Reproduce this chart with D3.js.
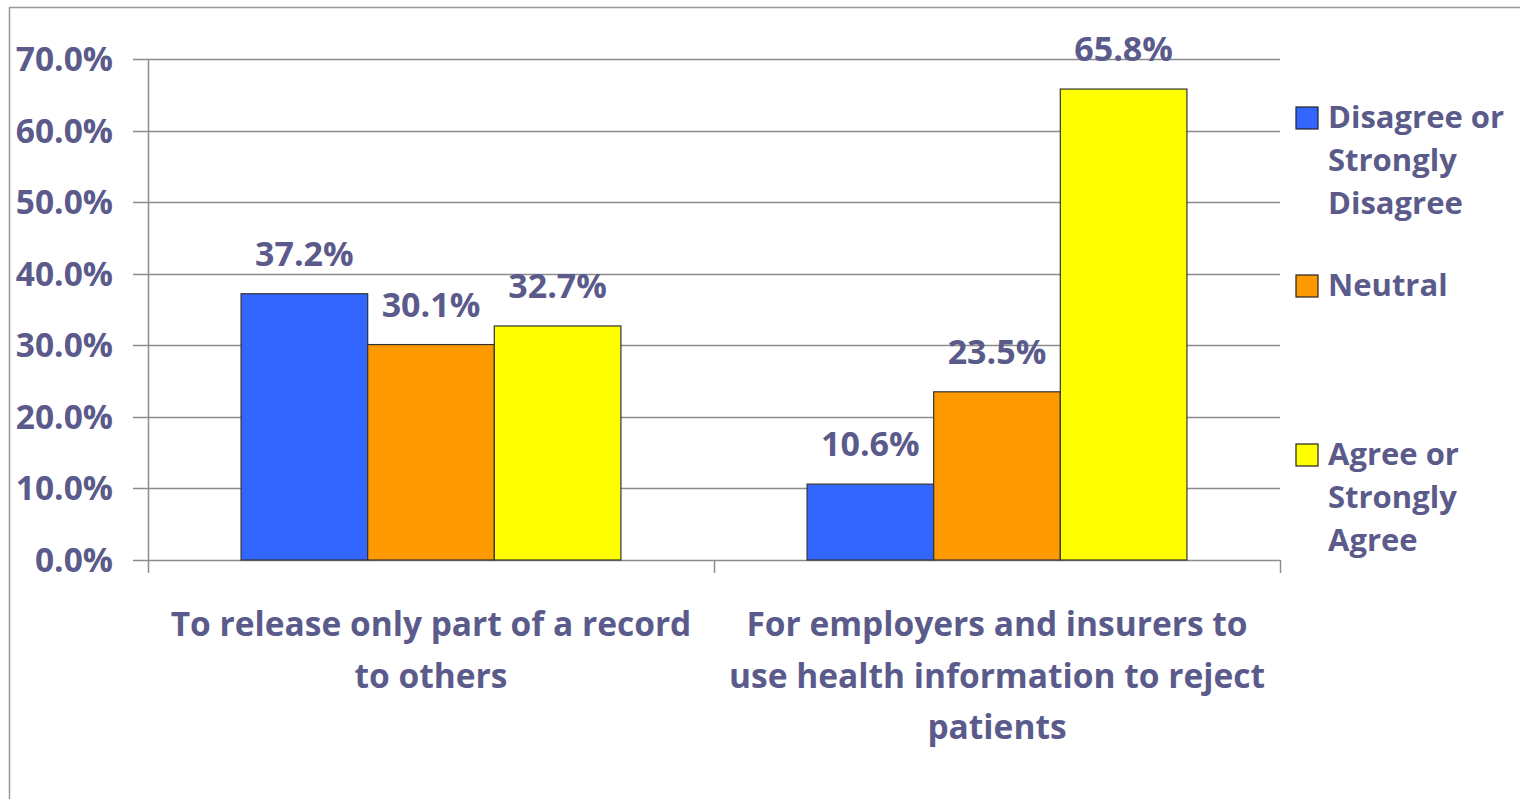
<!DOCTYPE html>
<html>
<head>
<meta charset="utf-8">
<script src="https://cdn.jsdelivr.net/npm/d3@7"></script>
<style>
  body { margin: 0; background: #fff; }
  text { font-family: "Open Sans", Lato, sans-serif; font-weight: bold; fill: #5b5b8b; }
</style>
</head>
<body>
<svg class="chart"></svg>
<script>
var categories = [
  ["To release only part of a record", "to others"],
  ["For employers and insurers to", "use health information to reject", "patients"]
];
var seriesNames = [
  ["Disagree or", "Strongly", "Disagree"],
  ["Neutral"],
  ["Agree or", "Strongly", "Agree"]
];
var colors = ["#3366ff", "#ff9900", "#ffff00"];
var values = [
  [37.2, 30.1, 32.7],
  [10.6, 23.5, 65.8]
];
var yTicks = [0, 10, 20, 30, 40, 50, 60, 70];

var width = 1520,
    height = 799;
var plotLeft = 148, plotRight = 1280, plotTop = 59, plotBottom = 560;

var chart = d3.select(".chart")
    .attr("width", width)
    .attr("height", height);

// outer frame (only top and left edges visible)
chart.append("line").attr("x1", 9).attr("x2", width).attr("y1", 7.5).attr("y2", 7.5)
    .attr("stroke", "#999").attr("stroke-width", 1.5);
chart.append("line").attr("x1", 9.5).attr("x2", 9.5).attr("y1", 7).attr("y2", height)
    .attr("stroke", "#999").attr("stroke-width", 1.5);

var x0 = d3.scaleBand()
    .domain(d3.range(categories.length))
    .range([plotLeft, plotRight]);
var x1 = d3.scaleBand()
    .domain(d3.range(colors.length))
    .range([0, x0.bandwidth()])
    .paddingOuter(0.735)
    .paddingInner(0);
var y = d3.scaleLinear()
    .domain([0, 70])
    .range([plotBottom, plotTop]);

// gridlines + y labels
chart.selectAll(".grid")
    .data(yTicks)
  .enter().append("line")
    .attr("x1", plotLeft - 15)
    .attr("x2", plotRight)
    .attr("y1", function(d) { return Math.round(y(d)) + 0.5; })
    .attr("y2", function(d) { return Math.round(y(d)) + 0.5; })
    .attr("stroke", "#8c8c8c")
    .attr("stroke-width", 1.5);

chart.selectAll(".ylab")
    .data(yTicks)
  .enter().append("text")
    .attr("x", 113)
    .attr("y", function(d) { return y(d); })
    .attr("dy", "0.36em")
    .attr("text-anchor", "end")
    .style("font-size", "33.5px")
    .text(function(d) { return d.toFixed(1) + "%"; });

// y axis line
chart.append("line")
    .attr("x1", plotLeft + 0.5).attr("x2", plotLeft + 0.5)
    .attr("y1", plotTop).attr("y2", plotBottom + 13)
    .attr("stroke", "#8c8c8c").attr("stroke-width", 1.5);

// category ticks
chart.selectAll(".ctick")
    .data(d3.range(1, categories.length + 1))
  .enter().append("line")
    .attr("x1", function(d) { return plotLeft + d * x0.bandwidth() + 0.5; })
    .attr("x2", function(d) { return plotLeft + d * x0.bandwidth() + 0.5; })
    .attr("y1", plotBottom).attr("y2", plotBottom + 13)
    .attr("stroke", "#8c8c8c").attr("stroke-width", 1.5);

var group = chart.selectAll(".grp")
    .data(values)
  .enter().append("g")
    .attr("transform", function(d, i) { return "translate(" + x0(i) + ",0)"; });

group.selectAll("rect")
    .data(function(d) { return d; })
  .enter().append("rect")
    .attr("x", function(d, i) { return x1(i); })
    .attr("y", function(d) { return y(d); })
    .attr("width", x1.bandwidth())
    .attr("height", function(d) { return y(0) - y(d); })
    .attr("fill", function(d, i) { return colors[i]; })
    .attr("stroke", "#333")
    .attr("stroke-width", 1.2);

group.selectAll(".val")
    .data(function(d) { return d; })
  .enter().append("text")
    .attr("x", function(d, i) { return x1(i) + x1.bandwidth() / 2; })
    .attr("y", function(d) { return y(d) - 28; })
    .attr("text-anchor", "middle")
    .style("font-size", "34px")
    .text(function(d) { return d.toFixed(1) + "%"; });

// category labels
chart.selectAll(".cat")
    .data(categories)
  .enter().append("text")
    .attr("text-anchor", "middle")
    .style("font-size", "33.5px")
    .each(function(d, i) {
      var t = d3.select(this);
      d.forEach(function(line, j) {
        t.append("tspan")
          .attr("x", x0(i) + x0.bandwidth() / 2)
          .attr("y", 636 + j * 51.5)
          .text(line);
      });
    });

// legend
var legendY = [118, 286, 455];
var legend = chart.selectAll(".leg")
    .data(seriesNames)
  .enter().append("g")
    .attr("transform", function(d, i) { return "translate(1296," + legendY[i] + ")"; });

legend.append("rect")
    .attr("x", 0).attr("y", -11)
    .attr("width", 22).attr("height", 22)
    .attr("fill", function(d, i) { return colors[i]; })
    .attr("stroke", "#222")
    .attr("stroke-width", 1.2);

legend.append("text")
    .style("font-size", "31px")
    .each(function(d) {
      var t = d3.select(this);
      d.forEach(function(line, j) {
        t.append("tspan")
          .attr("x", 32)
          .attr("y", 10 + j * 43)
          .text(line);
      });
    });
</script>
</body>
</html>
